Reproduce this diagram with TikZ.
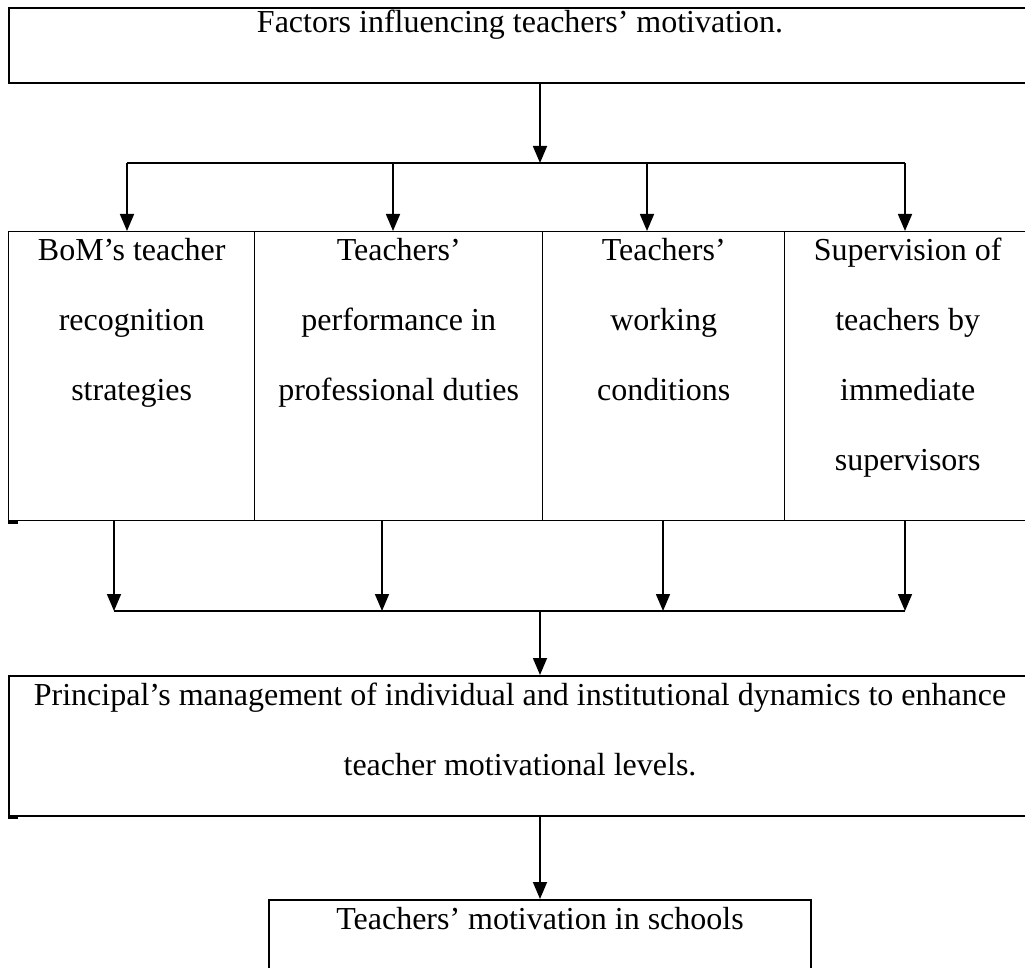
\documentclass[tikz,border=0pt]{standalone}
\usepackage{fontspec}
\setmainfont{Liberation Serif}
\usetikzlibrary{arrows.meta}
\begin{document}
\begin{tikzpicture}[x=1pt,y=-1pt,
  font=\fontsize{32}{70}\selectfont,
  frame/.style={draw, line width=2pt, inner sep=0pt, anchor=north west},
  cell/.style={draw, line width=1.4pt, inner sep=0pt, anchor=north west},
  txt/.style={align=center, inner sep=0pt, anchor=north},
  arr/.style={line width=1.6pt, -{Triangle[width=14pt,length=17pt]}},
  bar/.style={line width=1.6pt},
  stub/.style={line width=2.4pt}]
\useasboundingbox (0,0) rectangle (1025,968);
\fill[white] (0,0) rectangle (1025,968);

% top box
\node[frame, minimum width=1022pt, minimum height=75pt] (top) at (8,7) {};
\node[txt] (toptxt) at ([yshift=-3pt]top.north) {Factors influencing teachers’ motivation.};

% junction coordinates
\coordinate (j0) at (540,163);
\coordinate (c1) at (127,163);
\coordinate (c2) at (393,163);
\coordinate (c3) at (647,163);
\coordinate (c4) at (905,163);

% row of four boxes
\node[cell, minimum width=246pt, minimum height=289pt] (b1) at (8,231) {};
\node[cell, minimum width=288pt, minimum height=289pt] (b2) at (254,231) {};
\node[cell, minimum width=242pt, minimum height=289pt] (b3) at (542,231) {};
\node[cell, minimum width=246pt, minimum height=289pt] (b4) at (784,231) {};
\node[txt] (t1) at ([yshift=-7pt]b1.north) {BoM’s teacher\\recognition\\strategies};
\node[txt] (t2) at ([yshift=-7pt]b2.north) {Teachers’\\performance in\\professional duties};
\node[txt] (t3) at ([yshift=-7pt]b3.north) {Teachers’\\working\\conditions};
\node[txt] (t4) at ([yshift=-7pt]b4.north) {Supervision of\\teachers by\\immediate\\supervisors};
\coordinate (s1) at ([xshift=10pt,yshift=-1pt]b1.south west);
\draw[stub] ([yshift=-1pt]b1.south west) -- (s1);

% merge coordinates
\coordinate (d1) at (114,611);
\coordinate (d2) at (382,611);
\coordinate (d3) at (663,611);
\coordinate (d4) at (905,611);
\coordinate (m0) at (540,611);

% principal box
\node[frame, minimum width=1022pt, minimum height=140pt] (pr) at (8,675) {};
\node[txt] (prtxt) at ([yshift=-8pt]pr.north) {Principal’s management of individual and institutional dynamics to enhance\\teacher motivational levels.};
\coordinate (s2) at ([xshift=10pt,yshift=-1pt]pr.south west);
\draw[stub] ([yshift=-1pt]pr.south west) -- (s2);

% bottom box
\node[frame, minimum width=542pt, minimum height=110pt] (bt) at (268,899) {};
\node[txt] (bttxt) at ([yshift=-8pt]bt.north) {Teachers’ motivation in schools};

% connectors
\draw[arr] (top.south -| j0) -- (j0);
\draw[bar] (c1) -- (c4);
\draw[arr] (c1) -- (c1 |- b1.north);
\draw[arr] (c2) -- (c2 |- b2.north);
\draw[arr] (c3) -- (c3 |- b3.north);
\draw[arr] (c4) -- (c4 |- b4.north);

\draw[arr] (b1.south -| d1) -- (d1);
\draw[arr] (b2.south -| d2) -- (d2);
\draw[arr] (b3.south -| d3) -- (d3);
\draw[arr] (b4.south -| d4) -- (d4);
\draw[bar] (d1) -- (d4);
\draw[arr] (m0) -- (m0 |- pr.north);
\draw[arr] (pr.south -| m0) -- (m0 |- bt.north);
\end{tikzpicture}
\end{document}
